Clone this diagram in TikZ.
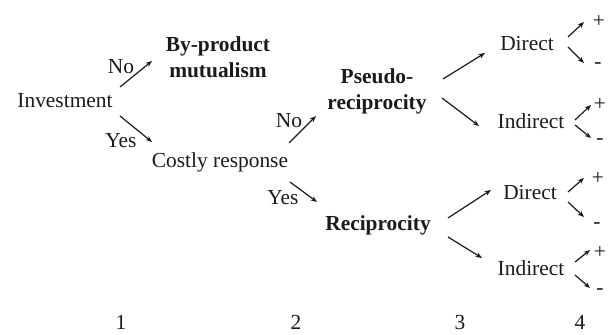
\documentclass[tikz,border=0pt]{standalone}
\usepackage{fontspec}
\setmainfont{Liberation Serif}
\usetikzlibrary{positioning,arrows.meta}
\definecolor{ink}{HTML}{1A1A1A}
\tikzset{
  every node/.style={font=\fontsize{10.7}{13}\selectfont, inner sep=0pt, text=ink},
  % --- nodes
  stage/.style   = {align=center, anchor=base},
  stagebf/.style = {stage, font=\fontsize{10.7}{13}\selectfont\bfseries},
  ans/.style     = {anchor=base},
  sgn/.style     = {anchor=base},
  lvl/.style     = {anchor=base},
  % --- edges
  e/.style       = {-{Stealth[length=3.2pt,width=2.5pt]}, line width=0.6pt, draw=ink},
}

\begin{document}
\begin{tikzpicture}[x=0.5pt,y=-0.5pt]
  \useasboundingbox (0,0) rectangle (611,335);

  % stages of the decision tree
  \node[stage]   (inv)    at (65,108)  {Investment};
  \node[stagebf] (byp)    at (218,78)  {By-product\\mutualism};
  \node[stage]   (cost)   at (220,168) {Costly response};
  \node[stagebf] (pseudo) at (377,110) {Pseudo-\\reciprocity};
  \node[stage]   (recip)  at (378,231) {\bfseries Reciprocity};
  \node[stage]   (d1)     at (527,51)  {Direct};
  \node[stage]   (i1)     at (531,129) {Indirect};
  \node[stage]   (d2)     at (530,200) {Direct};
  \node[stage]   (i2)     at (531,276) {Indirect};

  % answers
  \node[ans] (no1)  at (121,74)  {No};
  \node[ans] (yes1) at (121,148) {Yes};
  \node[ans] (no2)  at (289,128) {No};
  \node[ans] (yes2) at (283,205) {Yes};

  % signs
  \node[sgn] (p1) at (599,28)  {+};
  \node[sgn] (m1) at (598,69)  {-};
  \node[sgn] (p2) at (600,111) {+};
  \node[sgn] (m2) at (600,145) {-};
  \node[sgn] (p3) at (598,185) {+};
  \node[sgn] (m3) at (597,229) {-};
  \node[sgn] (p4) at (600,259) {+};
  \node[sgn] (m4) at (600,295) {-};

  % levels
  \foreach \n/\x in {1/121,2/296,3/460,4/580} {
    \node[lvl] (lv\n) at (\x,330) {\n};
  }

  % branches
  \draw[e] ([shift={(55,-21)}]inv.base)    -- ([shift={(-66,-17)}]byp.base);
  \draw[e] ([shift={(55,8)}]inv.base)      -- ([shift={(-68,-26)}]cost.base);
  \draw[e] ([shift={(69,-25)}]cost.base)   -- ([shift={(-61,6)}]pseudo.base);
  \draw[e] ([shift={(70,14)}]cost.base)    -- ([shift={(-61,-29)}]recip.base);
  \draw[e] ([shift={(66,-31)}]pseudo.base) -- ([shift={(-42,2)}]d1.base);
  \draw[e] ([shift={(65,-12)}]pseudo.base) -- ([shift={(-52,-3)}]i1.base);
  \draw[e] ([shift={(70,-13)}]recip.base)  -- ([shift={(-39,-10)}]d2.base);
  \draw[e] ([shift={(70,6)}]recip.base)    -- ([shift={(-49,-18)}]i2.base);

  % leaves
  \draw[e] ([shift={(41,-14)}]d1.base) -- ([shift={(-15,-6)}]p1.base);
  \draw[e] ([shift={(41,-4)}]d1.base)  -- ([shift={(-14,-6)}]m1.base);
  \draw[e] ([shift={(44,-9)}]i1.base)  -- ([shift={(-9,-6)}]p2.base);
  \draw[e] ([shift={(44,-4)}]i1.base)  -- ([shift={(-9,-7)}]m2.base);
  \draw[e] ([shift={(38,-8)}]d2.base)  -- ([shift={(-14,-7)}]p3.base);
  \draw[e] ([shift={(38,2)}]d2.base)   -- ([shift={(-13,-12)}]m3.base);
  \draw[e] ([shift={(44,-14)}]i2.base) -- ([shift={(-10,-9)}]p4.base);
  \draw[e] ([shift={(44,-1)}]i2.base)  -- ([shift={(-10,-7)}]m4.base);
\end{tikzpicture}
\end{document}
